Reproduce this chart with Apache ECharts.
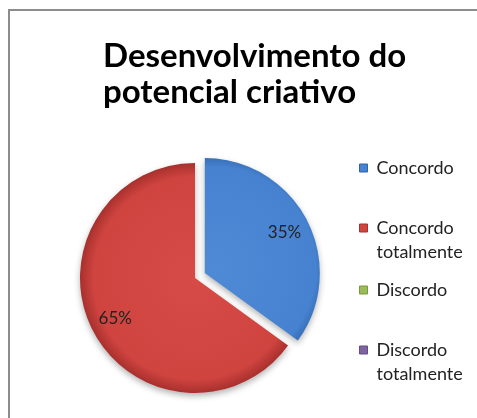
<!DOCTYPE html>
<html>
<head>
<meta charset="utf-8">
<script src="https://cdn.jsdelivr.net/npm/echarts@6/dist/echarts.min.js"></script>
<style>html,body{margin:0;padding:0;background:#fff;}#c{width:477px;height:418px;}</style>
</head>
<body>
<div id="c"></div>
<script>
var categories = ['Concordo', 'Concordo totalmente', 'Discordo', 'Discordo totalmente'];
var values = [35, 65, 0, 0];
var titleText = 'Desenvolvimento do\npotencial criativo';

var baseColors = ['#4682d0', '#d04440', '#9bbb59', '#8064a2'];
var edgeColors = ['#2f64aa', '#a8302d', '#7a9a3e', '#634b84'];
var lightColors = ['#4f8ad6', '#d64b47', '#a6c565', '#8a6fac'];

var cx = 195, cy = 278, R = 115, off = 11;

function grad(i, x, y) {
  return {
    type: 'radial', x: x, y: y, r: R, global: true,
    colorStops: [
      {offset: 0, color: lightColors[i]},
      {offset: 0.88, color: baseColors[i]},
      {offset: 1, color: edgeColors[i]}
    ]
  };
}

var pieData = categories.map(function (n, i) {
  var d = {name: n, value: values[i], itemStyle: {color: grad(i, i === 0 ? cx + 10 : cx, i === 0 ? cy - 5 : cy)}};
  if (i === 0) d.selected = true;
  return d;
});
var labelData = categories.map(function (n, i) {
  var d = {name: n, value: values[i]};
  if (i === 0) d.selected = true;
  return d;
});

var legendTops = [156, 192, 278, 314];
var legends = categories.map(function (n, i) {
  return {
    orient: 'vertical',
    left: 359,
    top: legendTops[i],
    padding: 0,
    itemWidth: 8, itemHeight: 8, itemGap: 0,
    icon: 'rect',
    data: [{
      name: n,
      itemStyle: {color: baseColors[i], borderColor: edgeColors[i], borderWidth: 1}
    }],
    formatter: function (name) {
      return name.indexOf(' ') > 0 ? ' \n' + name.replace(' ', '\n') : name;
    },
    textStyle: {fontFamily: 'Lato', fontSize: 18, color: '#222', lineHeight: 24, padding: [0, 0, 0, 4]}
  };
});

var chart = echarts.init(document.getElementById('c'), null, {renderer: 'canvas'});
chart.setOption({
  animation: false,
  color: baseColors,
  graphic: [{
    type: 'rect', silent: true, z: -1,
    shape: {x: 9, y: 10, width: 490, height: 430},
    style: {fill: '#fff', stroke: '#8c8c8c', lineWidth: 2}
  }],
  title: {
    text: titleText,
    left: 98, top: 33,
    textAlign: 'left',
    textStyle: {fontFamily: 'Lato', fontWeight: 'bold', fontSize: 33, lineHeight: 36, color: '#000'}
  },
  legend: legends,
  series: [{
    type: 'pie',
    center: [cx, cy],
    radius: [0, R],
    startAngle: 90,
    clockwise: true,
    selectedMode: 'single',
    selectedOffset: off,
    avoidLabelOverlap: false,
    label: {show: false},
    labelLine: {show: false},
    itemStyle: {shadowBlur: 6, shadowOffsetY: 3, shadowColor: 'rgba(0,0,0,0.3)'},
    emphasis: {disabled: true},
    data: pieData
  }, {
    type: 'pie',
    center: [cx, cy],
    radius: [58, R],
    startAngle: 90,
    clockwise: true,
    selectedMode: 'single',
    selectedOffset: off,
    silent: true,
    z: 3,
    itemStyle: {color: 'rgba(0,0,0,0)'},
    label: {
      show: true, position: 'inside',
      fontFamily: 'Lato', fontSize: 17, color: '#222',
      formatter: function (p) { return p.value > 0 ? Math.round(p.percent) + '%' : ''; }
    },
    labelLine: {show: false},
    emphasis: {disabled: true},
    data: labelData
  }]
});
</script>
</body>
</html>
